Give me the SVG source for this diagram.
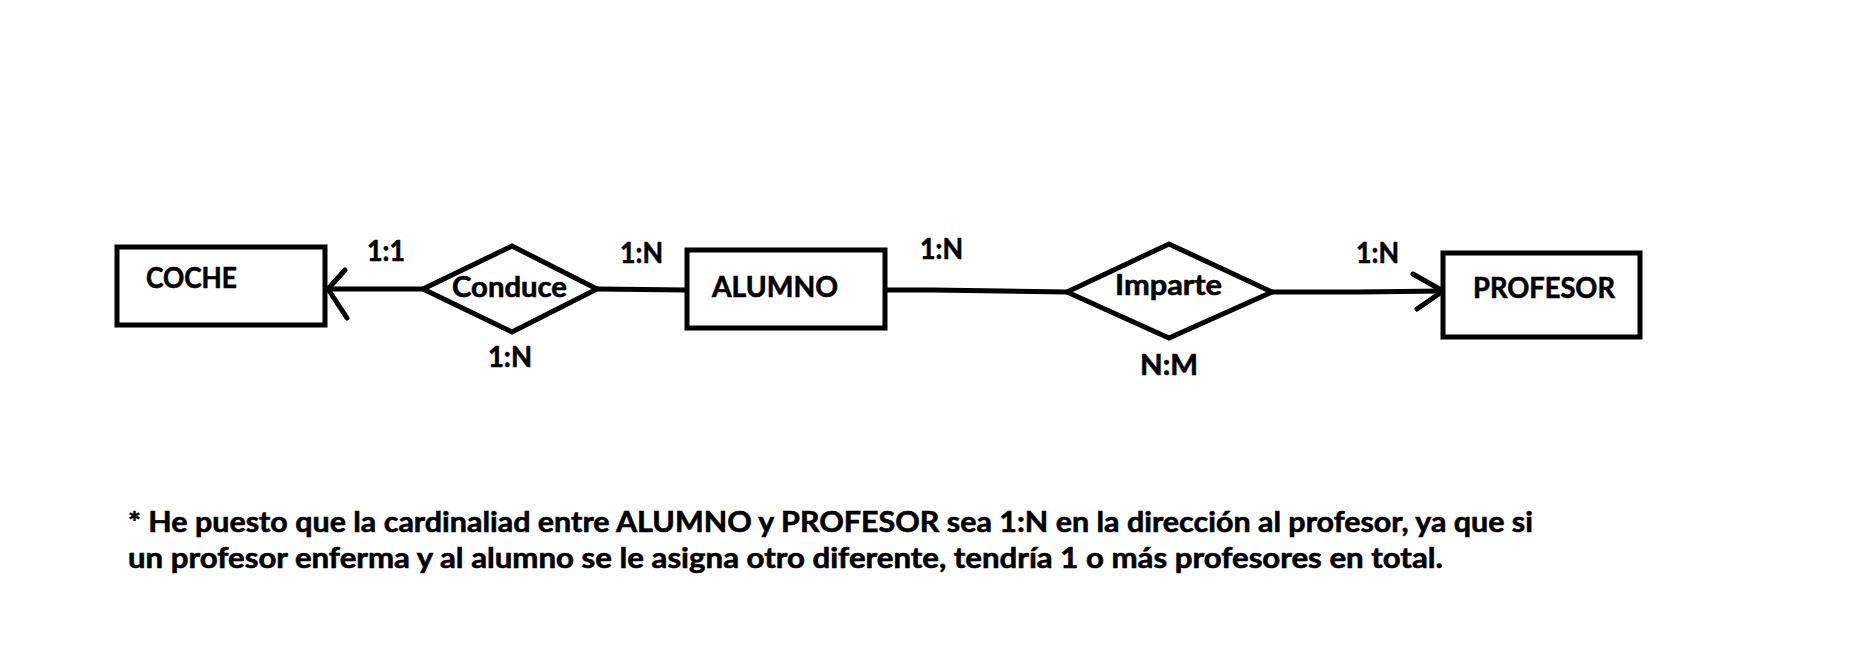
<svg xmlns="http://www.w3.org/2000/svg" width="1872" height="648" viewBox="0 0 1872 648">
<style>
.shape{fill:#fff;stroke:#000;stroke-width:5;stroke-linejoin:miter}
.ln{fill:none;stroke:#000;stroke-width:5;stroke-linecap:round;stroke-linejoin:round}
text{font-family:Lato,"Liberation Sans",Arial,sans-serif;font-weight:bold;font-size:28px;fill:#000;stroke:#000;stroke-width:0.6}
</style>
<rect width="1872" height="648" fill="#fff"/>
<g id="connectors">
<polyline class="ln" points="423,289 328,289"/>
<polyline class="ln" points="345,270 328,289 347,318"/>
<polyline class="ln" points="597,289 687,290"/>
<polyline class="ln" points="885,290 933,290 1067,292"/>
<polyline class="ln" points="1272,292 1358,292 1443,291"/>
<polyline class="ln" points="1413,274 1443,291 1417,309"/>
</g>
<g id="coche">
<rect class="shape" x="117" y="247" width="208" height="78"/>
<text x="146" y="288" textLength="91" lengthAdjust="spacingAndGlyphs">COCHE</text>
</g>
<g id="conduce">
<polygon class="shape" points="423,289 512,246 597,289 512,332"/>
<text x="452" y="297" textLength="115" lengthAdjust="spacingAndGlyphs">Conduce</text>
</g>
<g id="alumno">
<rect class="shape" x="687" y="250" width="198" height="78"/>
<text x="712" y="297" textLength="126" lengthAdjust="spacingAndGlyphs">ALUMNO</text>
</g>
<g id="imparte">
<polygon class="shape" points="1067,292 1169,244 1272,292 1169,338"/>
<text x="1115" y="295" textLength="107" lengthAdjust="spacingAndGlyphs">Imparte</text>
</g>
<g id="profesor">
<rect class="shape" x="1443" y="253" width="197" height="84"/>
<text x="1473" y="298" textLength="142" lengthAdjust="spacingAndGlyphs">PROFESOR</text>
</g>
<g id="labels">
<text x="367" y="261" textLength="38" lengthAdjust="spacingAndGlyphs">1:1</text>
<text x="488" y="367" textLength="44" lengthAdjust="spacingAndGlyphs">1:N</text>
<text x="620" y="263" textLength="43" lengthAdjust="spacingAndGlyphs">1:N</text>
<text x="920" y="259" textLength="43" lengthAdjust="spacingAndGlyphs">1:N</text>
<text x="1140" y="375" textLength="58" lengthAdjust="spacingAndGlyphs">N:M</text>
<text x="1356" y="263" textLength="43" lengthAdjust="spacingAndGlyphs">1:N</text>
</g>
<g id="note">
<text x="128" y="532" textLength="1405" lengthAdjust="spacingAndGlyphs">* He puesto que la cardinaliad entre ALUMNO y PROFESOR sea 1:N en la dirección al profesor, ya que si</text>
<text x="128" y="568" textLength="1315" lengthAdjust="spacingAndGlyphs">un profesor enferma y al alumno se le asigna otro diferente, tendría 1 o más profesores en total.</text>
</g>
</svg>
